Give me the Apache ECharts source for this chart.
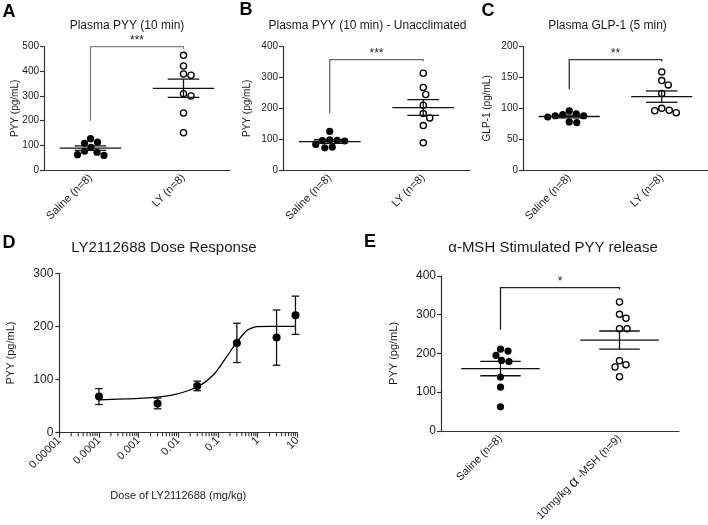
<!DOCTYPE html>
<html><head><meta charset="utf-8">
<script src="https://cdn.jsdelivr.net/npm/echarts@6/dist/echarts.min.js"></script>
<style>html,body{margin:0;padding:0;background:#fff}#c{width:708px;height:525px}</style>
</head><body><div id="c"></div>
<script>
// ---------------- data ----------------
const catsABC = ['Saline (n=8)', 'LY (n=8)'];
const catsE = ['Saline (n=8)', '10mg/kg α -MSH (n=9)'];

const aSaline = [127, 113, 108, 92, 76, 72, 62, 59];
const aLY = [465, 422, 389, 384, 309, 300, 231, 151];
const bSaline = [125, 98, 96, 95, 94, 83, 75, 72];
const bLY = [314, 268, 245, 210, 183, 169, 144, 88];
const cSaline = [96, 91, 90, 88, 88, 86, 78, 77];
const cLY = [159, 145, 138, 124, 100, 97, 96, 93];
const eSaline = [211, 206, 195, 182, 179, 139, 113, 62];
const eMSH = [333, 301, 291, 264, 264, 181, 171, 165, 140];

// significance brackets: [left leg bottom, top, right leg bottom]
const bracketA = [200, 500, 490];
const bracketB = [183, 358, 354];
const bracketC = [131, 179, 176];
const bracketE = [261, 370, 365];
const starsA = '***', starsB = '***', starsC = '**', starsE = '*';

// dose response
const doses = [0.0001, 0.003, 0.03, 0.3, 3, 9];
const doseMean = [68, 55, 88, 169, 179, 221];
const doseSem = [15, 10, 9, 37, 52, 36];
const fitDose = [0.0001, 0.001, 0.003, 0.0074, 0.029, 0.076, 0.166, 0.295, 0.525, 0.7, 0.95, 2, 9];
const fitPYY = [62, 64.5, 67, 71, 85.5, 108.6, 143, 170, 192, 197, 199.6, 200, 200];
const doseTicks = ['0.00001', '0.0001', '0.001', '0.01', '0.1', '1', '10'];
const decadeStarts = [0.00001, 0.0001, 0.001, 0.01, 0.1, 1];
const minorMults = [2, 3, 4, 5, 6, 7, 8, 9];

const titles = ['Plasma PYY (10 min)', 'Plasma PYY (10 min) - Unacclimated', 'Plasma GLP-1 (5 min)',
                'LY2112688 Dose Response', 'α-MSH Stimulated PYY release'];
const letters = ['A', 'B', 'C', 'D', 'E'];

// ---------------- helpers ----------------
const FONT = 'Liberation Sans, Arial, sans-serif';
const INK = '#1a1a1a';
const AX = '#333';

function mean(a) { return a.reduce((s, v) => s + v, 0) / a.length; }
function sem(a) {
  const m = mean(a);
  const sd = Math.sqrt(a.reduce((s, v) => s + (v - m) * (v - m), 0) / (a.length - 1));
  return sd / Math.sqrt(a.length);
}
function swarm(pts, d) {
  const order = pts.map((p, i) => i).sort((a, b) => pts[a][1] - pts[b][1]);
  const placed = [], out = new Array(pts.length);
  for (const i of order) {
    const x0 = pts[i][0], y0 = pts[i][1];
    let best = null;
    for (let k = 0; k < 400 && best === null; k++) {
      const cands = k === 0 ? [0] : [k * 0.5, -k * 0.5];
      for (const off of cands) {
        const x = x0 + off;
        if (placed.every(q => (q[0] - x) * (q[0] - x) + (q[1] - y0) * (q[1] - y0) >= d * d)) { best = x; break; }
      }
    }
    out[i] = [best, y0]; placed.push(out[i]);
  }
  return out;
}
function dotSeries(g, cat, vals, hollow) {
  let cache = null;
  return {
    type: 'custom', xAxisIndex: g, yAxisIndex: g, z: 3,
    data: vals.map(v => [cat, v]), encode: { x: 0, y: 1 },
    renderItem(params, api) {
      if (params.dataIndex === 0 || !cache) cache = swarm(vals.map(v => api.coord([cat, v])), 7.4);
      const p = cache[params.dataIndex];
      return { type: 'circle', shape: { cx: p[0], cy: p[1], r: hollow ? 3.1 : 3.6 },
        style: { fill: hollow ? '#fff' : '#000', stroke: '#000', lineWidth: hollow ? 1.3 : 0 } };
    }
  };
}
function statsSeries(g, groups) {
  const data = groups.map((vals, i) => [i, mean(vals), sem(vals)]);
  return {
    type: 'custom', xAxisIndex: g, yAxisIndex: g, z: 5, data, encode: { x: 0, y: 1 },
    renderItem(params, api) {
      const c = api.value(0), m = api.value(1), s = api.value(2);
      const pm = api.coord([c, m]), pu = api.coord([c, m + s]), pl = api.coord([c, m - s]);
      const bw = api.size([1, 0])[0];
      const hw = bw * 0.33, cw = bw * 0.17;
      const st = { stroke: '#111', lineWidth: 1.3 };
      return { type: 'group', children: [
        { type: 'line', shape: { x1: pm[0] - hw, y1: pm[1], x2: pm[0] + hw, y2: pm[1] }, style: st },
        { type: 'line', shape: { x1: pu[0] - cw, y1: pu[1], x2: pu[0] + cw, y2: pu[1] }, style: st },
        { type: 'line', shape: { x1: pl[0] - cw, y1: pl[1], x2: pl[0] + cw, y2: pl[1] }, style: st },
        { type: 'line', shape: { x1: pu[0], y1: pu[1], x2: pl[0], y2: pl[1] }, style: st }
      ] };
    }
  };
}
function bracketSeries(g, br, stars, color) {
  return {
    type: 'custom', xAxisIndex: g, yAxisIndex: g, z: 4, data: [[0, br[1]]], encode: { x: 0, y: 1 },
    renderItem(params, api) {
      const p0 = api.coord([0, br[0]]), p1 = api.coord([0, br[1]]), p2 = api.coord([1, br[1]]), p3 = api.coord([1, br[2]]);
      return { type: 'group', children: [
        { type: 'polyline', shape: { points: [p0, p1, p2, p3] }, style: { stroke: color, lineWidth: 1.3, fill: null } },
        { type: 'text', x: (p1[0] + p2[0]) / 2, y: p1[1] - 6,
          style: { text: stars, fill: INK, font: '12px ' + FONT, align: 'center', verticalAlign: 'middle' } }
      ] };
    }
  };
}
function catAxis(g, cats, fs) {
  return {
    type: 'category', gridIndex: g, data: cats, boundaryGap: true,
    axisLine: { lineStyle: { color: AX, width: 1.2 } },
    axisTick: { alignWithLabel: true, length: 4, lineStyle: { color: AX, width: 1.2 } },
    axisLabel: { rotate: 45, fontSize: fs, color: INK, fontFamily: FONT, margin: 6,
      formatter: v => v.replace('α', '{a|α}'),
      rich: { a: { fontSize: fs + 4, color: INK, fontFamily: FONT } } },
    splitLine: { show: false }
  };
}
function valAxis(g, max, interval, name, gap, fs, nfs, margin) {
  return {
    type: 'value', gridIndex: g, min: 0, max, interval, name, nameLocation: 'middle', nameGap: gap,
    nameMoveOverlap: false,
    nameTextStyle: { fontSize: nfs, color: INK, fontFamily: FONT },
    axisLine: { show: true, lineStyle: { color: AX, width: 1.2 } },
    axisTick: { show: true, length: 4, lineStyle: { color: AX, width: 1.2 } },
    axisLabel: { fontSize: fs, color: INK, fontFamily: FONT, margin },
    splitLine: { show: false }
  };
}

// ---------------- option ----------------
const option = {
  animation: false,
  backgroundColor: '#fff',
  textStyle: { fontFamily: FONT },
  grid: [
    { left: 44, top: 46.7, width: 186, height: 123.3 },
    { left: 283, top: 46.7, width: 187, height: 123.3 },
    { left: 523, top: 46.7, width: 187, height: 123.3 },
    { left: 59.3, top: 273.3, width: 238, height: 159.4 },
    { left: 441, top: 276, width: 238, height: 158.3 }
  ],
  xAxis: [
    catAxis(0, catsABC, 11), catAxis(1, catsABC, 11), catAxis(2, catsABC, 11),
    {
      type: 'log', gridIndex: 3, logBase: 10, min: 0.00001, max: 10,
      name: 'Dose of LY2112688 (mg/kg)', nameLocation: 'middle', nameGap: 58,
      nameTextStyle: { fontSize: 11, color: INK, fontFamily: FONT },
      axisLine: { lineStyle: { color: AX, width: 1.2 } },
      axisTick: { length: 5, lineStyle: { color: AX, width: 1.2 } },
      axisLabel: { rotate: 45, fontSize: 11, color: INK, fontFamily: FONT, margin: 6,
        formatter: v => doseTicks[Math.round(Math.log10(v)) + 5] },
      splitLine: { show: false }
    },
    catAxis(4, catsE, 11)
  ],
  yAxis: [
    valAxis(0, 500, 100, 'PYY (pg/mL)', 24, 10, 10, 5),
    valAxis(1, 400, 100, 'PYY (pg/mL)', 31, 10, 10, 5),
    valAxis(2, 200, 50, 'GLP-1 (pg/mL)', 31, 10, 10, 5),
    valAxis(3, 300, 100, 'PYY (pg/mL)', 43, 12, 11, 6),
    valAxis(4, 400, 100, 'PYY (pg/mL)', 42, 12, 11, 5)
  ],
  series: [
    dotSeries(0, 0, aSaline, false), dotSeries(0, 1, aLY, true),
    statsSeries(0, [aSaline, aLY]), bracketSeries(0, bracketA, starsA, '#808080'),
    dotSeries(1, 0, bSaline, false), dotSeries(1, 1, bLY, true),
    statsSeries(1, [bSaline, bLY]), bracketSeries(1, bracketB, starsB, '#6a6a6a'),
    dotSeries(2, 0, cSaline, false), dotSeries(2, 1, cLY, true),
    statsSeries(2, [cSaline, cLY]), bracketSeries(2, bracketC, starsC, '#333'),
    dotSeries(4, 0, eSaline, false), dotSeries(4, 1, eMSH, true),
    statsSeries(4, [eSaline, eMSH]), bracketSeries(4, bracketE, starsE, '#222'),
    {
      // minor (2..9 x 10^n) ticks of the dose axis, placed through the log axis
      type: 'custom', xAxisIndex: 3, yAxisIndex: 3, z: 6, silent: true, clip: false,
      data: [[1, 100]], encode: { x: 0, y: 1 },
      renderItem(params, api) {
        const children = [];
        decadeStarts.forEach(d => minorMults.forEach(m => {
          const p = api.coord([d * m, 0]);
          children.push({ type: 'line', shape: { x1: p[0], y1: p[1], x2: p[0], y2: p[1] + 3.5 },
            style: { stroke: AX, lineWidth: 1.1 } });
        }));
        return { type: 'group', children };
      }
    },
    {
      type: 'line', xAxisIndex: 3, yAxisIndex: 3, data: fitDose.map((d, i) => [d, fitPYY[i]]),
      showSymbol: false, smooth: 0.3, lineStyle: { color: '#000', width: 1.3 }, z: 2
    },
    {
      type: 'custom', xAxisIndex: 3, yAxisIndex: 3, z: 3,
      data: doses.map((d, i) => [d, doseMean[i], doseSem[i]]), encode: { x: 0, y: 1 },
      renderItem(params, api) {
        const x = api.value(0), m = api.value(1), s = api.value(2);
        const pu = api.coord([x, m + s]), pl = api.coord([x, m - s]);
        const cw = 3.8, st = { stroke: '#111', lineWidth: 1.3 };
        return { type: 'group', children: [
          { type: 'line', shape: { x1: pu[0], y1: pu[1], x2: pl[0], y2: pl[1] }, style: st },
          { type: 'line', shape: { x1: pu[0] - cw, y1: pu[1], x2: pu[0] + cw, y2: pu[1] }, style: st },
          { type: 'line', shape: { x1: pl[0] - cw, y1: pl[1], x2: pl[0] + cw, y2: pl[1] }, style: st }
        ] };
      }
    },
    {
      type: 'scatter', xAxisIndex: 3, yAxisIndex: 3, z: 4, symbolSize: 8,
      data: doses.map((d, i) => [d, doseMean[i]]), itemStyle: { color: '#000', opacity: 1 }
    }
  ],
  graphic: [
    { type: 'text', x: 9, y: 12.5, style: { text: letters[0], font: 'bold 18px ' + FONT, fill: '#000', align: 'center', verticalAlign: 'middle' } },
    { type: 'text', x: 246, y: 10.5, style: { text: letters[1], font: 'bold 18px ' + FONT, fill: '#000', align: 'center', verticalAlign: 'middle' } },
    { type: 'text', x: 488, y: 11, style: { text: letters[2], font: 'bold 18px ' + FONT, fill: '#000', align: 'center', verticalAlign: 'middle' } },
    { type: 'text', x: 9, y: 243.5, style: { text: letters[3], font: 'bold 18px ' + FONT, fill: '#000', align: 'center', verticalAlign: 'middle' } },
    { type: 'text', x: 370, y: 242.5, style: { text: letters[4], font: 'bold 18px ' + FONT, fill: '#000', align: 'center', verticalAlign: 'middle' } },
    { type: 'text', x: 127, y: 26, style: { text: titles[0], font: '12px ' + FONT, fill: INK, align: 'center', verticalAlign: 'middle' } },
    { type: 'text', x: 367.5, y: 26, style: { text: titles[1], font: '12px ' + FONT, fill: INK, align: 'center', verticalAlign: 'middle' } },
    { type: 'text', x: 607.5, y: 26, style: { text: titles[2], font: '12px ' + FONT, fill: INK, align: 'center', verticalAlign: 'middle' } },
    { type: 'text', x: 164, y: 248, style: { text: titles[3], font: '15px ' + FONT, fill: INK, align: 'center', verticalAlign: 'middle' } },
    { type: 'text', x: 553, y: 248, style: { text: titles[4], font: '15px ' + FONT, fill: INK, align: 'center', verticalAlign: 'middle' } }
  ]
};

const chart = echarts.init(document.getElementById('c'), null, { renderer: 'canvas' });
chart.setOption(option);
</script>
</body></html>
